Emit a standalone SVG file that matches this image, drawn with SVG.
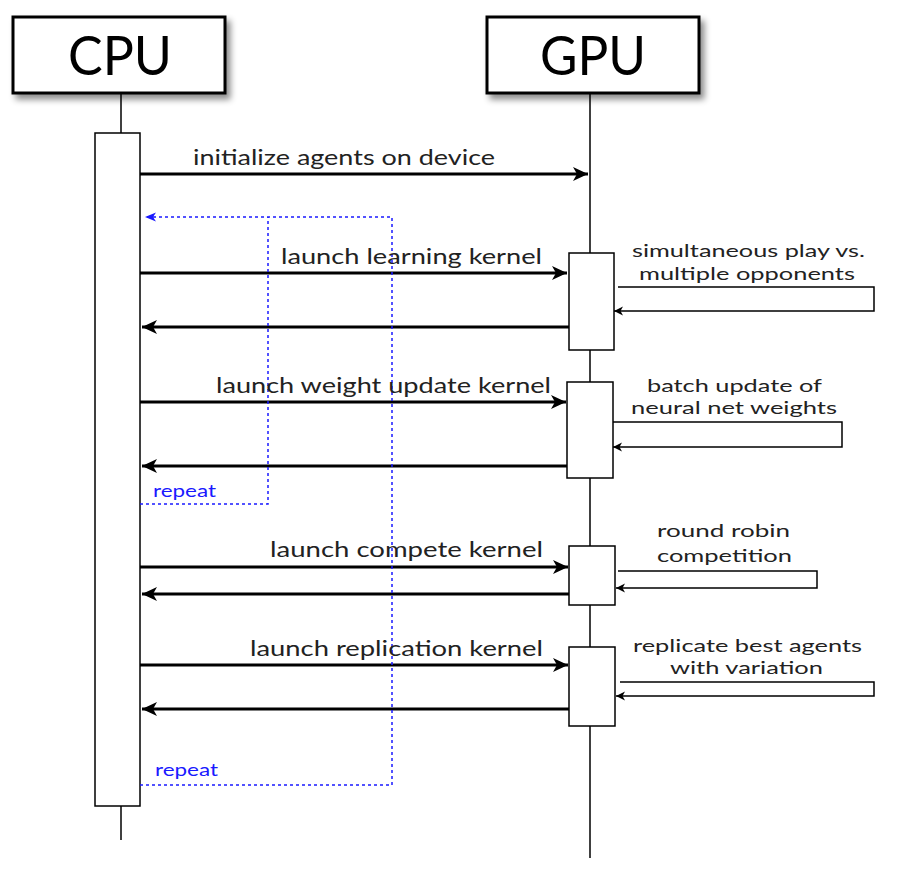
<svg xmlns="http://www.w3.org/2000/svg" width="900" height="884" viewBox="0 0 900 884">
<style>
  .hdr { fill: #fff; stroke: #000; stroke-width: 3; }
  .hdrt { font-family: Lato, "Open Sans", sans-serif; font-size: 54px; fill: #000; text-anchor: middle; }
  .life { stroke: #000; stroke-width: 1.5; fill: none; }
  .act { fill: #fff; stroke: #000; stroke-width: 1.5; }
  .msg { stroke: #000; stroke-width: 3; fill: none; }
  .self { stroke: #000; stroke-width: 1.5; fill: none; }
  .loop { stroke: #1a1aff; stroke-width: 1.5; fill: none; stroke-dasharray: 3 3; }
  .lbl { font-family: Lato, "Open Sans", sans-serif; font-size: 22px; fill: #222; }
  .note { font-family: Lato, "Open Sans", sans-serif; font-size: 18px; fill: #222; }
  .rep { font-family: Lato, "Open Sans", sans-serif; font-size: 17px; fill: #1a1aff; }
</style>
<defs>
  <filter id="shadow" x="-20%" y="-20%" width="150%" height="150%">
    <feDropShadow dx="4" dy="5" stdDeviation="3" flood-color="#000" flood-opacity="0.45"/>
  </filter>
  <marker id="ah" markerUnits="userSpaceOnUse" markerWidth="16" markerHeight="14" refX="15" refY="7" orient="auto">
    <path d="M0,0 L15,7 L0,14 L4,7 z" fill="#000"/>
  </marker>
  <marker id="ahs" markerUnits="userSpaceOnUse" markerWidth="10" markerHeight="10" refX="9" refY="4.5" orient="auto">
    <path d="M0,0 L9,4.5 L0,9 L2.5,4.5 z" fill="#000"/>
  </marker>
  <marker id="ahb" markerUnits="userSpaceOnUse" markerWidth="12" markerHeight="10" refX="11" refY="4.5" orient="auto">
    <path d="M0,0 L11,4.5 L0,9 L3,4.5 z" fill="#1a1aff"/>
  </marker>
</defs>

<g id="cpu">
  <line class="life" x1="121" y1="93" x2="121" y2="840"/>
  <rect class="hdr" x="13" y="17" width="212" height="76" filter="url(#shadow)"/>
  <text class="hdrt" x="120" y="75" textLength="104" lengthAdjust="spacingAndGlyphs">CPU</text>
  <rect class="act" x="95" y="133" width="45" height="673"/>
</g>

<g id="gpu">
  <line class="life" x1="590" y1="93" x2="590" y2="858"/>
  <rect class="hdr" x="487" y="17" width="212" height="76" filter="url(#shadow)"/>
  <text class="hdrt" x="593" y="75" textLength="106" lengthAdjust="spacingAndGlyphs">GPU</text>
  <rect class="act" x="569" y="253" width="45" height="97"/>
  <rect class="act" x="567" y="382" width="46" height="96"/>
  <rect class="act" x="569" y="546" width="46" height="59"/>
  <rect class="act" x="569" y="647" width="46" height="79"/>
</g>

<g id="connectors">
  <line class="msg" x1="140" y1="174" x2="588" y2="174" marker-end="url(#ah)"/>
  <line class="msg" x1="140" y1="273" x2="567" y2="273" marker-end="url(#ah)"/>
  <line class="msg" x1="569" y1="327" x2="142" y2="327" marker-end="url(#ah)"/>
  <line class="msg" x1="140" y1="402" x2="566" y2="402" marker-end="url(#ah)"/>
  <line class="msg" x1="567" y1="466" x2="142" y2="466" marker-end="url(#ah)"/>
  <line class="msg" x1="140" y1="567" x2="568" y2="567" marker-end="url(#ah)"/>
  <line class="msg" x1="569" y1="594" x2="142" y2="594" marker-end="url(#ah)"/>
  <line class="msg" x1="140" y1="665" x2="568" y2="665" marker-end="url(#ah)"/>
  <line class="msg" x1="569" y1="709" x2="142" y2="709" marker-end="url(#ah)"/>

  <polyline class="self" points="618,287 874,287 874,311 614,311" marker-end="url(#ahs)"/>
  <polyline class="self" points="613,422 842,422 842,447 613,447" marker-end="url(#ahs)"/>
  <polyline class="self" points="618,571 817,571 817,588 616,588" marker-end="url(#ahs)"/>
  <polyline class="self" points="620,682 874,682 874,696 616,696" marker-end="url(#ahs)"/>

  <polyline class="loop" points="140,504 268,504 268,217"/>
  <polyline class="loop" points="140,785 392,785 392,217 145,217" marker-end="url(#ahb)"/>
</g>

<g id="labels">
  <text class="lbl" x="193" y="165" textLength="302" lengthAdjust="spacingAndGlyphs">initialize agents on device</text>
  <text class="lbl" x="281" y="264" textLength="261" lengthAdjust="spacingAndGlyphs">launch learning kernel</text>
  <text class="lbl" x="216" y="393" textLength="335" lengthAdjust="spacingAndGlyphs">launch weight update kernel</text>
  <text class="lbl" x="270" y="557" textLength="273" lengthAdjust="spacingAndGlyphs">launch compete kernel</text>
  <text class="lbl" x="250" y="656" textLength="293" lengthAdjust="spacingAndGlyphs">launch replication kernel</text>

  <text class="note" x="632" y="257" textLength="233" lengthAdjust="spacingAndGlyphs">simultaneous play vs.</text>
  <text class="note" x="639" y="280" textLength="216" lengthAdjust="spacingAndGlyphs">multiple opponents</text>
  <text class="note" x="647" y="392" textLength="175" lengthAdjust="spacingAndGlyphs">batch update of</text>
  <text class="note" x="631" y="414" textLength="206" lengthAdjust="spacingAndGlyphs">neural net weights</text>
  <text class="note" x="657" y="537" textLength="133" lengthAdjust="spacingAndGlyphs">round robin</text>
  <text class="note" x="657" y="562" textLength="135" lengthAdjust="spacingAndGlyphs">competition</text>
  <text class="note" x="633" y="652" textLength="229" lengthAdjust="spacingAndGlyphs">replicate best agents</text>
  <text class="note" x="670" y="674" textLength="153" lengthAdjust="spacingAndGlyphs">with variation</text>

  <text class="rep" x="153" y="497" textLength="63" lengthAdjust="spacingAndGlyphs">repeat</text>
  <text class="rep" x="155" y="776" textLength="63" lengthAdjust="spacingAndGlyphs">repeat</text>
</g>
</svg>
